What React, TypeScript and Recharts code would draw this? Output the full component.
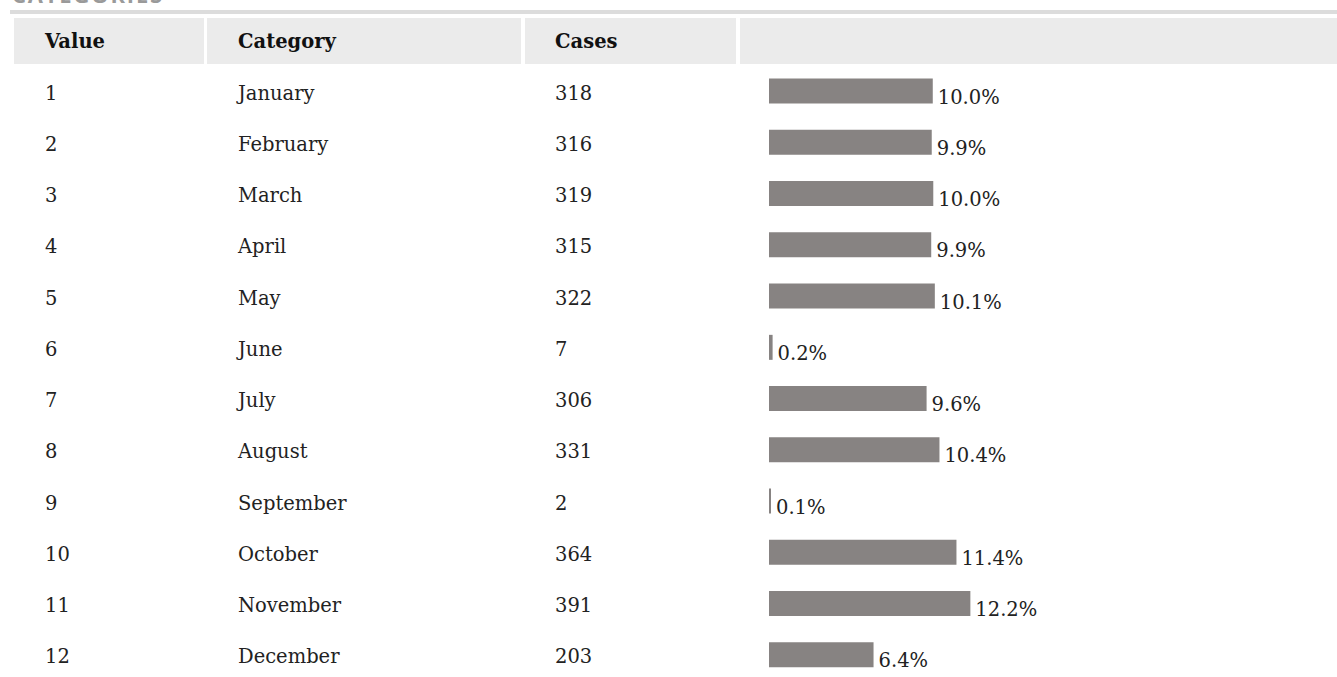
import React from 'react';
import { BarChart, Bar, XAxis, YAxis, LabelList } from 'recharts';

const values = [1, 2, 3, 4, 5, 6, 7, 8, 9, 10, 11, 12];
const categories = [
  'January', 'February', 'March', 'April', 'May', 'June',
  'July', 'August', 'September', 'October', 'November', 'December',
];
const cases = [318, 316, 319, 315, 322, 7, 306, 331, 2, 364, 391, 203];
const headers = ['Value', 'Category', 'Cases', ''];

const total = cases.reduce((a, b) => a + b, 0);

const data = categories.map((category, i) => ({
  value: values[i],
  category,
  cases: cases[i],
  pct: ((cases[i] / total) * 100).toFixed(1) + '%',
}));

const FONT = '"DejaVu Serif", serif';
const FS = 19.5;
const TEXT = '#222';
const BAR = '#878382';

// header cells: [left, right]
const headerCells = [
  [14, 204],
  [207, 521],
  [525, 736],
  [740, 1337],
];
const colX = [45, 238, 555];

function RowTick(props: any) {
  const { y, payload } = props;
  const row = data.find((d) => d.category === payload.value);
  if (!row) return null;
  const texts = [String(row.value), row.category, String(row.cases)];
  return (
    <g>
      {texts.map((t, i) => (
        <text key={i} x={colX[i]} y={y + 8.5} fill={TEXT} fontSize={FS} fontFamily={FONT}>
          {t}
        </text>
      ))}
    </g>
  );
}

function PctLabel(props: any) {
  const { x, y, width, height, value } = props;
  return (
    <text x={x + width + 5} y={y + height} fill={TEXT} fontSize={FS} fontFamily={FONT}>
      {value}
    </text>
  );
}

export default function App() {
  return (
    <div style={{ position: 'absolute', top: 0, left: 0, width: 1337, height: 677, overflow: 'hidden', background: '#fff' }}>
      <div
        style={{
          position: 'absolute',
          left: 12,
          top: -21,
          fontFamily: '"Open Sans", sans-serif',
          fontWeight: 700,
          fontSize: 22,
          color: '#9a9a9a',
          letterSpacing: 1.8,
        }}
      >
        CATEGORIES
      </div>
      <div style={{ position: 'absolute', left: 10, top: 10, width: 1327, height: 4, background: '#dcdcdc' }} />
      {headerCells.map(([l, r], i) => (
        <div
          key={i}
          style={{
            position: 'absolute',
            left: l,
            top: 18,
            width: r - l,
            height: 46,
            background: '#ebebeb',
            fontFamily: FONT,
            fontWeight: 700,
            fontSize: FS,
            color: '#111',
            lineHeight: '46px',
            paddingTop: 1,
            paddingLeft: colX[i] !== undefined ? colX[i] - l : 0,
            boxSizing: 'border-box',
          }}
        >
          {headers[i]}
        </div>
      ))}
      <div style={{ position: 'absolute', left: 0, top: 0 }}>
        <BarChart
          width={1337}
          height={700}
          data={data}
          layout="vertical"
          margin={{ top: 65.6, right: 53, left: 0, bottom: 19.4 }}
        >
          <XAxis type="number" hide domain={[0, 1000]} />
          <YAxis
            type="category"
            dataKey="category"
            width={769}
            axisLine={false}
            tickLine={false}
            tick={<RowTick />}
            interval={0}
          />
          <Bar dataKey="cases" fill={BAR} barSize={25} minPointSize={2} isAnimationActive={false}>
            <LabelList dataKey="pct" content={<PctLabel />} />
          </Bar>
        </BarChart>
      </div>
    </div>
  );
}
